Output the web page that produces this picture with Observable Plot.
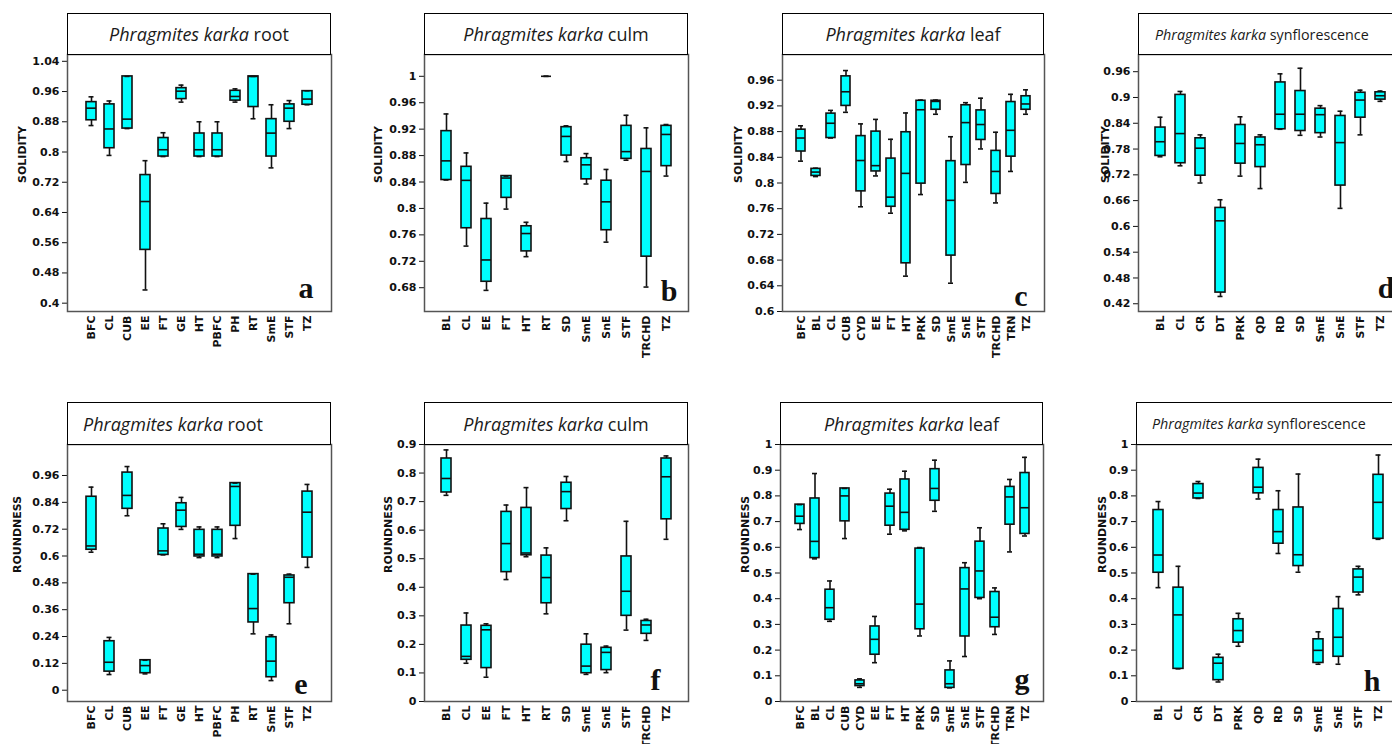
<!DOCTYPE html>
<html><head><meta charset="utf-8">
<script src="https://cdn.jsdelivr.net/npm/d3@7"></script>
<script src="https://cdn.jsdelivr.net/npm/@observablehq/plot@0.6"></script>
<style>
html,body{margin:0;padding:0;background:#fff;}
#root{position:relative;width:1392px;height:744px;overflow:hidden;background:#fff;}
#root svg{position:absolute;overflow:visible;}
.title{position:absolute;box-sizing:border-box;border:1.5px solid #000;background:#fff;display:flex;align-items:center;font-family:"Open Sans",sans-serif;color:#1a1a1a;white-space:nowrap;overflow:hidden;}
</style></head><body><div id="root"></div>
<script>
// ---- categories ----
const rootCats = ["BFC","CL","CUB","EE","FT","GE","HT","PBFC","PH","RT","SmE","STF","TZ"];
const culmCats = ["BL","CL","EE","FT","HT","RT","SD","SmE","SnE","STF","TRCHD","TZ"];
const leafCats = ["BFC","BL","CL","CUB","CYD","EE","FT","HT","PRK","SD","SmE","SnE","STF","TRCHD","TRN","TZ"];
const synCats = ["BL","CL","CR","DT","PRK","QD","RD","SD","SmE","SnE","STF","TZ"];

// ---- box statistics: [min, q1, median, q3, max] ----
const rootSolidity = [
 [0.870,0.884,0.916,0.932,0.946],[0.791,0.810,0.861,0.926,0.935],[0.862,0.862,0.887,1.000,1.000],
 [0.435,0.541,0.669,0.739,0.777],[0.788,0.788,0.806,0.837,0.851],[0.932,0.940,0.961,0.969,0.977],
 [0.788,0.788,0.806,0.849,0.880],[0.788,0.788,0.806,0.849,0.880],[0.932,0.936,0.947,0.962,0.967],
 [0.888,0.919,1.000,1.000,1.000],[0.758,0.788,0.850,0.887,0.925],[0.862,0.880,0.916,0.926,0.936],
 [0.925,0.925,0.940,0.961,0.962]
];
const culmSolidity = [
 [0.843,0.843,0.872,0.917,0.943],[0.743,0.770,0.8425,0.863,0.884],[0.676,0.689,0.722,0.784,0.808],
 [0.799,0.816,0.846,0.849,0.849],[0.727,0.735,0.762,0.773,0.779],[1,1,1,1,1],
 [0.871,0.880,0.909,0.923,0.925],[0.837,0.844,0.866,0.876,0.883],[0.749,0.767,0.810,0.842,0.859],
 [0.873,0.875,0.886,0.925,0.941],[0.681,0.727,0.856,0.890,0.922],[0.849,0.864,0.912,0.925,0.927]
];
const leafSolidity = [
 [0.834,0.849,0.870,0.883,0.889],[0.810,0.811,0.817,0.822,0.823],[0.870,0.870,0.893,0.908,0.913],
 [0.910,0.920,0.942,0.966,0.975],[0.763,0.787,0.835,0.873,0.892],[0.811,0.818,0.827,0.880,0.899],
 [0.753,0.763,0.778,0.838,0.868],[0.655,0.675,0.815,0.879,0.909],[0.782,0.799,0.914,0.928,0.929],
 [0.907,0.914,0.927,0.928,0.929],[0.644,0.687,0.773,0.834,0.872],[0.801,0.828,0.894,0.921,0.925],
 [0.853,0.867,0.891,0.913,0.932],[0.769,0.783,0.818,0.850,0.879],[0.818,0.841,0.882,0.926,0.938],
 [0.907,0.914,0.923,0.935,0.945]
];
const synSolidity = [
 [0.762,0.764,0.797,0.830,0.854],[0.741,0.747,0.816,0.906,0.914],[0.701,0.718,0.782,0.805,0.813],
 [0.437,0.446,0.613,0.643,0.662],[0.717,0.746,0.793,0.836,0.855],[0.688,0.738,0.790,0.807,0.813],
 [0.826,0.826,0.861,0.935,0.955],[0.812,0.822,0.861,0.915,0.968],[0.808,0.817,0.860,0.874,0.881],
 [0.642,0.695,0.795,0.857,0.868],[0.813,0.853,0.894,0.911,0.917],[0.891,0.895,0.904,0.912,0.915]
];
const rootRoundness = [
 [0.617,0.628,0.645,0.865,0.908],[0.070,0.083,0.125,0.219,0.236],[0.780,0.811,0.871,0.973,1.000],
 [0.073,0.076,0.110,0.134,0.134],[0.605,0.605,0.623,0.723,0.744],[0.719,0.730,0.805,0.836,0.862],
 [0.593,0.598,0.608,0.717,0.730],[0.593,0.598,0.608,0.717,0.730],[0.678,0.735,0.911,0.926,0.926],
 [0.252,0.303,0.365,0.519,0.519],[0.043,0.058,0.130,0.237,0.247],[0.297,0.389,0.505,0.513,0.519],
 [0.549,0.593,0.796,0.888,0.920]
];
const culmRoundness = [
 [0.722,0.732,0.781,0.851,0.881],[0.134,0.146,0.158,0.266,0.310],[0.085,0.117,0.251,0.265,0.272],
 [0.427,0.453,0.553,0.664,0.688],[0.507,0.512,0.520,0.678,0.749],[0.307,0.344,0.434,0.511,0.538],
 [0.633,0.674,0.735,0.766,0.788],[0.095,0.099,0.124,0.199,0.237],[0.101,0.110,0.172,0.188,0.194],
 [0.250,0.300,0.386,0.508,0.631],[0.214,0.237,0.268,0.282,0.288],[0.568,0.638,0.787,0.851,0.860]
];
const leafRoundness = [
 [0.669,0.691,0.721,0.766,0.766],[0.555,0.558,0.623,0.790,0.887],[0.312,0.318,0.365,0.435,0.469],
 [0.634,0.701,0.800,0.829,0.829],[0.055,0.060,0.069,0.082,0.088],[0.151,0.182,0.242,0.292,0.331],
 [0.651,0.684,0.760,0.809,0.826],[0.664,0.668,0.736,0.864,0.896],[0.255,0.281,0.379,0.595,0.599],
 [0.740,0.781,0.829,0.904,0.939],[0.053,0.053,0.069,0.121,0.158],[0.175,0.253,0.438,0.519,0.540],
 [0.400,0.403,0.508,0.622,0.676],[0.261,0.289,0.328,0.426,0.442],[0.582,0.688,0.796,0.835,0.864],
 [0.644,0.652,0.754,0.889,0.950]
];
const synRoundness = [
 [0.443,0.501,0.570,0.745,0.778],[0.127,0.127,0.337,0.443,0.526],[0.790,0.790,0.811,0.846,0.856],
 [0.076,0.083,0.149,0.170,0.184],[0.215,0.229,0.276,0.320,0.343],[0.788,0.810,0.834,0.909,0.943],
 [0.576,0.614,0.661,0.745,0.820],[0.503,0.527,0.571,0.755,0.885],[0.145,0.150,0.199,0.242,0.271],
 [0.145,0.174,0.250,0.360,0.408],[0.415,0.424,0.484,0.514,0.526],[0.631,0.633,0.775,0.882,0.959]
];

// ---- tick labels ----
const rootSolidityTicks = [0.4,0.48,0.56,0.64,0.72,0.8,0.88,0.96,1.04];
const culmSolidityTicks = [0.68,0.72,0.76,0.8,0.84,0.88,0.92,0.96,1];
const leafSolidityTicks = [0.6,0.64,0.68,0.72,0.76,0.8,0.84,0.88,0.92,0.96];
const synSolidityTicks = [0.42,0.48,0.54,0.6,0.66,0.72,0.78,0.84,0.9,0.96];
const rootRoundnessTicks = [0,0.12,0.24,0.36,0.48,0.6,0.72,0.84,0.96];
const culmRoundnessTicks = [0,0.1,0.2,0.3,0.4,0.5,0.6,0.7,0.8,0.9];
const leafRoundnessTicks = [0,0.1,0.2,0.3,0.4,0.5,0.6,0.7,0.8,0.9,1];
const synRoundnessTicks = [0,0.1,0.2,0.3,0.4,0.5,0.6,0.7,0.8,0.9,1];

// ---- panel layout ----
const panels = [
 {cats:rootCats, stats:rootSolidity, ticks:rootSolidityTicks, domain:[0.378,1.058], label:"SOLIDITY", letter:"a", part:"root", x0:67, x1:331, tTop:13, top:54, bottom:311, tfs:18, pad:null, labelOff:45, ldx:-18, ldy:-14, boxW:10},
 {cats:culmCats, stats:culmSolidity, ticks:culmSolidityTicks, domain:[0.644,1.033], label:"SOLIDITY", letter:"b", part:"culm", x0:424, x1:688, tTop:13, top:54, bottom:311, tfs:18, pad:null, labelOff:46, ldx:-11, ldy:-11, boxW:10},
 {cats:leafCats, stats:leafSolidity, ticks:leafSolidityTicks, domain:[0.6,1.0], label:"SOLIDITY", letter:"c", part:"leaf", x0:782, x1:1044, tTop:13, top:54, bottom:311, tfs:18, pad:null, labelOff:44, ldx:-17, ldy:-6, boxW:9},
 {cats:synCats, stats:synSolidity, ticks:synSolidityTicks, domain:[0.402,1.0], label:"SOLIDITY", letter:"d", part:"synflorescence", x0:1138, x1:1402, tTop:13, top:54, bottom:311, tfs:14.3, pad:16, labelOff:33, ldx:-8, ldy:-14, boxW:10},
 {cats:rootCats, stats:rootRoundness, ticks:rootRoundnessTicks, domain:[-0.0505,1.0986], label:"ROUNDNESS", letter:"e", part:"root", x0:67, x1:331, tTop:402, top:444, bottom:701, tfs:18, pad:15, labelOff:50, ldx:-24, ldy:-8, boxW:10},
 {cats:culmCats, stats:culmRoundness, ticks:culmRoundnessTicks, domain:[0,0.9], label:"ROUNDNESS", letter:"f", part:"culm", x0:424, x1:688, tTop:402, top:444, bottom:701, tfs:18, pad:null, labelOff:36, ldx:-28, ldy:-12, boxW:10},
 {cats:leafCats, stats:leafRoundness, ticks:leafRoundnessTicks, domain:[0,1], label:"ROUNDNESS", letter:"g", part:"leaf", x0:780, x1:1043, tTop:402, top:444, bottom:701, tfs:18, pad:null, labelOff:35, ldx:-14, ldy:-13, boxW:9},
 {cats:synCats, stats:synRoundness, ticks:synRoundnessTicks, domain:[0,1], label:"ROUNDNESS", letter:"h", part:"synflorescence", x0:1136, x1:1400, tTop:402, top:444, bottom:701, tfs:14.3, pad:15, labelOff:34, ldx:-20, ldy:-11, boxW:10}
];

const root = document.getElementById("root");
const ink = "#111";
const fmt = d => String(+d.toFixed(2));

for (const p of panels) {
  const rows = p.cats.map((c, i) => ({cat: c, lo: p.stats[i][0], q1: p.stats[i][1], med: p.stats[i][2], q3: p.stats[i][3], hi: p.stats[i][4]}));
  const W = p.x1 - p.x0, H = p.bottom - p.top;
  const n = p.cats.length, step = W / (n + 1);
  const pi = 1 - p.boxW / step;
  const capInset = (p.boxW - 5) / 2;
  const ml = 62, mr = 2, mb = 60;
  const chart = Plot.plot({
    width: W + ml + mr, height: H + mb,
    marginLeft: ml, marginRight: mr, marginTop: 0, marginBottom: mb,
    style: {fontFamily: "DejaVu Sans", fontSize: "11px", fontWeight: "bold", color: ink, background: "transparent", overflow: "visible"},
    x: {type: "band", domain: p.cats, paddingInner: pi, paddingOuter: (1 + pi) / 2, align: 0.5, tickSize: 0, tickPadding: 4, tickRotate: -90, label: null},
    y: {domain: p.domain, ticks: p.ticks, tickFormat: fmt, tickSize: 5, tickPadding: 3, label: null},
    marks: [
      Plot.frame({stroke: "#555", strokeWidth: 1.5}),
      Plot.ruleX(rows, {x: "cat", y1: "lo", y2: "hi", stroke: ink, strokeWidth: 1.6}),
      Plot.barY(rows, {x: "cat", y1: "q1", y2: "q3", fill: "#00FFFF", stroke: ink, strokeWidth: 1.6}),
      Plot.tickY(rows, {x: "cat", y: "med", stroke: ink, strokeWidth: 1.6}),
      Plot.tickY(rows, {x: "cat", y: "hi", stroke: ink, strokeWidth: 1.6, insetLeft: capInset, insetRight: capInset}),
      Plot.tickY(rows, {x: "cat", y: "lo", stroke: ink, strokeWidth: 1.6, insetLeft: capInset, insetRight: capInset}),
      Plot.text([p.label], {frameAnchor: "left", text: d => d, rotate: -90, dx: -p.labelOff, fontSize: 11, fontWeight: "bold", fontFamily: "DejaVu Sans", fill: ink}),
      Plot.text([p.letter], {frameAnchor: "bottom-right", text: d => d, textAnchor: "end", lineAnchor: "bottom", dx: p.ldx, dy: p.ldy, fontFamily: "Liberation Serif", fontWeight: "bold", fontSize: 30, fill: ink})
    ]
  });
  chart.style.left = (p.x0 - ml) + "px";
  chart.style.top = p.top + "px";
  root.appendChild(chart);

  const t = document.createElement("div");
  t.className = "title";
  t.style.left = p.x0 + "px";
  t.style.top = p.tTop + "px";
  t.style.width = W + "px";
  t.style.height = (p.top - p.tTop + 1) + "px";
  t.style.fontSize = p.tfs + "px";
  if (p.pad != null) { t.style.justifyContent = "flex-start"; t.style.paddingLeft = p.pad + "px"; }
  else t.style.justifyContent = "center";
  const it = document.createElement("i");
  it.textContent = "Phragmites karka";
  t.appendChild(it);
  t.appendChild(document.createTextNode("\u00a0" + p.part));
  root.appendChild(t);
}
</script></body></html>
